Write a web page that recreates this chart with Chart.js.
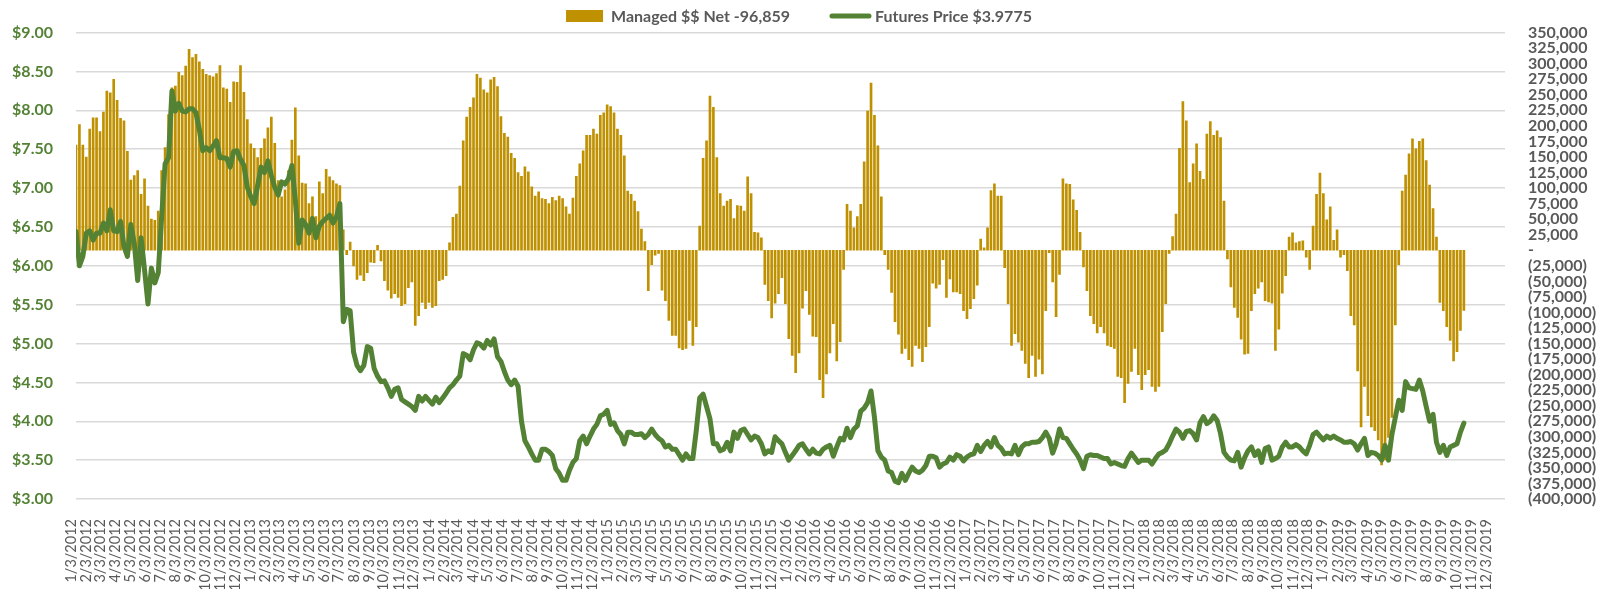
<!DOCTYPE html>
<html>
<head>
<meta charset="utf-8">
<title>Managed $$ Net vs Futures Price</title>
<script src="https://cdn.jsdelivr.net/npm/chart.js@4.4.1/dist/chart.umd.min.js"></script>
<style>
  html, body { margin: 0; padding: 0; background: #fff; }
  #wrap { position: relative; width: 1606px; height: 589px; }
</style>
</head>
<body>
<div id="wrap"><canvas id="chart"></canvas></div>
<script>
// Weekly report data, first report on 1/3/2012, one value per week.
const firstReport = Date.UTC(2012, 0, 3);
const DAY = 86400000;

// Managed money net position (thousands).
const managedNetK = [
  169, 202, 169, 150, 195, 213, 213, 191, 222, 256,
  253, 275, 241, 212, 208, 159, 113, 120, 128, 90,
  115, 71, 50, 48, 63, 128, 165, 218, 261, 264,
  286, 281, 296, 323, 310, 315, 303, 291, 283, 281,
  279, 284, 297, 261, 259, 238, 271, 270, 297, 254,
  210, 171, 164, 149, 164, 179, 197, 214, 172, 112,
  86, 97, 128, 177, 229, 152, 108, 107, 75, 86,
  54, 110, 91, 130, 118, 112, 107, 104, 33, -7,
  13, -25, -47, -40, -49, -36, -19, -20, 8, -17,
  -49, -64, -77, -70, -76, -89, -86, -60, -51, -121,
  -105, -84, -94, -84, -92, -89, -49, -47, -41, 12,
  53, 58, 103, 176, 214, 230, 245, 283, 277, 258,
  253, 274, 278, 263, 215, 188, 182, 156, 148, 125,
  119, 134, 126, 102, 87, 94, 83, 82, 75, 85,
  80, 87, 83, 70, 58, 84, 119, 139, 160, 185,
  185, 195, 187, 217, 221, 234, 231, 221, 195, 185,
  152, 95, 90, 79, 62, 34, 14, -65, -23, -8,
  -5, -64, -81, -113, -137, -137, -157, -160, -158, -113,
  -153, -123, 39, 148, 176, 248, 230, 149, 91, 71,
  79, 82, 51, 72, 71, 63, 118, 91, 29, 28,
  20, -55, -81, -109, -85, -70, -44, -86, -142, -169,
  -197, -165, -93, -65, -103, -138, -139, -208, -237, -199,
  -165, -118, -178, -147, -31, 74, 63, 36, 54, 74,
  142, 224, 269, 217, 168, 86, -7, -31, -68, -115,
  -135, -166, -158, -176, -187, -153, -158, -179, -155, -123,
  -53, -61, -55, -15, -76, -46, -67, -67, -70, -97,
  -110, -94, -78, -56, 18, 4, 36, 96, 107, 87,
  87, -28, -86, -153, -134, -148, -161, -182, -205, -169,
  -203, -175, -199, -97, -4, -51, -107, -39, 115, 107,
  106, 81, 64, 29, -27, -65, -105, -118, -133, -123,
  -133, -153, -155, -158, -203, -205, -245, -214, -195, -158,
  -200, -224, -200, -192, -219, -227, -219, -131, -86, -5,
  22, 58, 164, 239, 208, 109, 139, 171, 127, 114,
  187, 207, 185, 192, 181, 79, -14, -59, -92, -108,
  -143, -167, -166, -97, -70, -61, -51, -81, -83, -85,
  -161, -127, -69, -41, 21, 28, 12, 14, 15, -11,
  -31, 39, 90, 124, 91, 49, 70, 16, 33, -11,
  -7, -33, -105, -120, -194, -284, -219, -266, -284, -290,
  -305, -345, -337, -301, -269, -120, -23, 95, 121, 155,
  179, 163, 175, 179, 144, 105, 67, 21, -84, -97,
  -123, -145, -178, -163, -129, -96.859
];

// Futures price ($).
const futuresPrice = [
  6.44, 6.00, 6.12, 6.42, 6.45, 6.33, 6.42, 6.42, 6.55, 6.45,
  6.72, 6.45, 6.44, 6.57, 6.25, 6.12, 6.53, 6.29, 5.81, 6.36,
  5.95, 5.51, 5.97, 5.78, 5.91, 6.63, 7.31, 7.39, 8.25, 7.99,
  8.09, 7.99, 7.98, 8.02, 8.02, 7.97, 7.75, 7.48, 7.52, 7.48,
  7.54, 7.61, 7.39, 7.39, 7.38, 7.27, 7.47, 7.48, 7.37, 7.29,
  7.01, 6.89, 6.80, 7.03, 7.27, 7.20, 7.35, 7.16, 7.01, 6.91,
  7.08, 7.05, 7.12, 7.29, 6.85, 6.29, 6.59, 6.53, 6.42, 6.61,
  6.36, 6.51, 6.57, 6.61, 6.65, 6.55, 6.63, 6.80, 5.28, 5.44,
  5.42, 4.89, 4.72, 4.65, 4.72, 4.96, 4.94, 4.68, 4.58, 4.51,
  4.52, 4.43, 4.32, 4.41, 4.43, 4.28, 4.25, 4.22, 4.19, 4.14,
  4.32, 4.26, 4.32, 4.27, 4.22, 4.31, 4.24, 4.30, 4.36, 4.43,
  4.47, 4.53, 4.58, 4.87, 4.85, 4.79, 4.92, 5.01, 4.99, 4.94,
  5.04, 4.98, 5.06, 4.83, 4.77, 4.64, 4.53, 4.47, 4.53, 4.45,
  4.00, 3.75, 3.67, 3.58, 3.50, 3.50, 3.64, 3.64, 3.61, 3.56,
  3.39, 3.33, 3.24, 3.24, 3.37, 3.47, 3.52, 3.75, 3.81, 3.71,
  3.81, 3.90, 3.96, 4.07, 4.09, 4.14, 3.96, 3.98, 3.88, 3.83,
  3.71, 3.86, 3.86, 3.83, 3.83, 3.84, 3.79, 3.83, 3.90, 3.83,
  3.78, 3.75, 3.67, 3.69, 3.64, 3.64, 3.57, 3.50, 3.58, 3.52,
  3.52, 3.88, 4.30, 4.35, 4.19, 4.03, 3.71, 3.71, 3.62, 3.64,
  3.73, 3.62, 3.86, 3.78, 3.88, 3.90, 3.83, 3.76, 3.81, 3.79,
  3.71, 3.58, 3.62, 3.60, 3.80, 3.75, 3.71, 3.60, 3.50, 3.56,
  3.62, 3.69, 3.71, 3.64, 3.58, 3.64, 3.59, 3.58, 3.64, 3.67,
  3.69, 3.55, 3.67, 3.78, 3.76, 3.91, 3.79, 3.90, 3.94, 4.13,
  4.17, 4.24, 4.39, 4.05, 3.62, 3.54, 3.50, 3.36, 3.34, 3.23,
  3.21, 3.33, 3.24, 3.33, 3.41, 3.36, 3.34, 3.37, 3.43, 3.55,
  3.55, 3.53, 3.41, 3.45, 3.47, 3.54, 3.50, 3.57, 3.55, 3.49,
  3.54, 3.57, 3.58, 3.69, 3.61, 3.69, 3.74, 3.67, 3.79, 3.69,
  3.65, 3.58, 3.59, 3.58, 3.69, 3.57, 3.67, 3.71, 3.71, 3.73,
  3.73, 3.74, 3.79, 3.86, 3.78, 3.59, 3.71, 3.90, 3.79, 3.78,
  3.71, 3.64, 3.58, 3.50, 3.39, 3.55, 3.57, 3.56, 3.56, 3.54,
  3.52, 3.52, 3.45, 3.47, 3.45, 3.43, 3.42, 3.52, 3.59, 3.53,
  3.47, 3.50, 3.50, 3.50, 3.45, 3.52, 3.58, 3.60, 3.63, 3.71,
  3.81, 3.90, 3.86, 3.78, 3.87, 3.88, 3.84, 3.76, 3.98, 4.06,
  3.97, 4.00, 4.07, 4.01, 3.84, 3.60, 3.54, 3.50, 3.49, 3.60,
  3.41, 3.53, 3.62, 3.67, 3.56, 3.62, 3.47, 3.65, 3.67, 3.50,
  3.52, 3.55, 3.67, 3.73, 3.67, 3.67, 3.70, 3.67, 3.62, 3.58,
  3.69, 3.83, 3.86, 3.81, 3.76, 3.81, 3.78, 3.81, 3.78, 3.76,
  3.73, 3.73, 3.74, 3.71, 3.63, 3.71, 3.78, 3.56, 3.60, 3.59,
  3.56, 3.50, 3.69, 3.50, 3.83, 4.05, 4.27, 4.14, 4.51, 4.43,
  4.42, 4.41, 4.53, 4.39, 4.19, 4.00, 4.09, 3.73, 3.60, 3.69,
  3.56, 3.67, 3.69, 3.71, 3.86, 3.9775
];

const GOLD = "#BF9000";
const GREEN = "#548235";
const GREY = "#595959";

// Day offset of each weekly report from the first one.
const reportDays = managedNetK.map((_, i) => i * 7);

// Axis labels, one per month on the 3rd: 1/3/2012 ... 12/3/2019.
const monthTickDays = [];
const monthTickLabels = [];
for (let y = 2012; y <= 2019; y++) {
  for (let m = 0; m < 12; m++) {
    monthTickDays.push((Date.UTC(y, m, 3) - firstReport) / DAY);
    monthTickLabels.push((m + 1) + "/3/" + y);
  }
}
const axisEndDay = (Date.UTC(2019, 11, 31) - firstReport) / DAY;

const lastNet = Math.round(managedNetK[managedNetK.length - 1] * 1000);
const lastPrice = futuresPrice[futuresPrice.length - 1];

// -------------------------------------------------------------------
// Legend drawn across the top, box swatch for bars, line swatch for price.
// -------------------------------------------------------------------
const topLegend = {
  id: "topLegend",
  afterDraw(chart) {
    const ctx = chart.ctx;
    const items = [
      { text: "Managed $$ Net " + lastNet.toLocaleString("en-US"), kind: "box", color: GOLD },
      { text: "Futures Price $" + lastPrice, kind: "line", color: GREEN }
    ];
    ctx.save();
    ctx.font = "bold 16px Lato";
    ctx.textBaseline = "middle";
    const swatchW = 37, gap = 8, itemGap = 40;
    const widths = items.map(it => swatchW + gap + ctx.measureText(it.text).width);
    const total = widths.reduce((a, b) => a + b, 0) + itemGap * (items.length - 1);
    let x = (chart.width - total) / 2 - 4;
    const y = 16;
    items.forEach((it, k) => {
      if (it.kind === "box") {
        ctx.fillStyle = it.color;
        ctx.fillRect(x, y - 6, swatchW, 12);
      } else {
        ctx.strokeStyle = it.color;
        ctx.lineWidth = 5;
        ctx.lineCap = "round";
        ctx.beginPath();
        ctx.moveTo(x + 2, y);
        ctx.lineTo(x + swatchW + 2, y);
        ctx.stroke();
      }
      ctx.fillStyle = GREY;
      ctx.fillText(it.text, x + swatchW + gap, y + 1);
      x += widths[k] + itemGap;
    });
    ctx.restore();
  }
};

const tickFontBold = { family: "Lato", size: 16, weight: "bold" };

new Chart(document.getElementById("chart"), {
  type: "bar",
  data: {
    datasets: [
      {
        type: "bar",
        label: "Managed $$ Net",
        data: reportDays.map((d, i) => ({ x: d, y: managedNetK[i] * 1000 })),
        yAxisID: "y1",
        backgroundColor: GOLD,
        borderWidth: 0,
        barThickness: 2,
        order: 1
      },
      {
        type: "line",
        label: "Futures Price",
        data: reportDays.map((d, i) => ({ x: d, y: futuresPrice[i] })),
        yAxisID: "y",
        borderColor: GREEN,
        borderWidth: 5,
        pointRadius: 0,
        tension: 0,
        borderJoinStyle: "round",
        borderCapStyle: "round",
        order: 0
      }
    ]
  },
  options: {
    responsive: true,
    maintainAspectRatio: false,
    animation: false,
    layout: { padding: { top: 27, left: 0, right: 0, bottom: 0 } },
    plugins: {
      legend: { display: false },
      tooltip: { enabled: false }
    },
    scales: {
      x: {
        type: "linear",
        min: 0,
        max: axisEndDay,
        offset: false,
        grid: { display: false },
        border: { display: false },
        afterBuildTicks: s => { s.ticks = monthTickDays.map(v => ({ value: v })); },
        afterFit: s => { s.height = 90; },
        ticks: {
          autoSkip: false,
          minRotation: 90,
          maxRotation: 90,
          padding: 12,
          labelOffset: -5,
          color: GREY,
          font: { family: "Lato", size: 14.5 },
          callback: (v, i) => monthTickLabels[i]
        }
      },
      y: {
        position: "left",
        min: 3,
        max: 9,
        afterFit: s => { s.width = 76; },
        grid: { color: "#D9D9D9", lineWidth: 1.5, drawTicks: false },
        border: { display: false },
        ticks: {
          stepSize: 0.5,
          padding: 23,
          color: GREEN,
          font: tickFontBold,
          callback: v => "$" + v.toFixed(2)
        }
      },
      y1: {
        position: "right",
        min: -400000,
        max: 350000,
        afterFit: s => { s.width = 101; },
        grid: { display: false, drawTicks: false },
        border: { display: false },
        ticks: {
          stepSize: 25000,
          autoSkip: false,
          maxTicksLimit: 40,
          padding: 23,
          color: GREY,
          font: tickFontBold,
          callback: v => v === 0 ? "-" : v < 0 ? "(" + (-v).toLocaleString("en-US") + ")" : v.toLocaleString("en-US")
        }
      }
    }
  },
  plugins: [topLegend]
});
</script>
</body>
</html>
